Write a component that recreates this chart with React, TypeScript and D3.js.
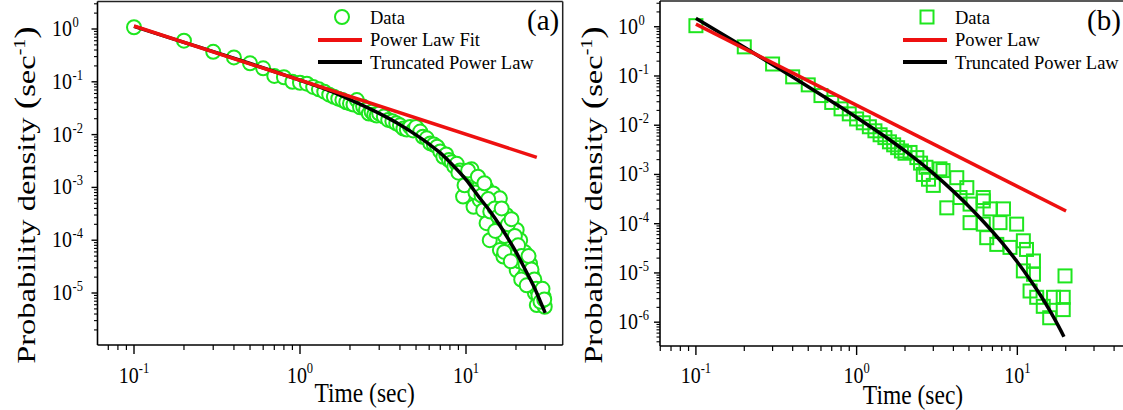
import React from 'react';
import * as d3 from 'd3';

// ---------------- Data: panel (a) ----------------
const timeA = [
  0.1, 0.2, 0.3, 0.4, 0.5, 0.6, 0.7, 0.8, 0.9, 1.0,
  1.1, 1.2, 1.3, 1.4, 1.5, 1.6, 1.7, 1.8, 1.9, 2.0,
  2.1, 2.2, 2.3, 2.4, 2.5, 2.6, 2.7, 2.8, 2.9, 3.0,
  3.2, 3.4, 3.6, 3.8, 4.0, 4.2, 4.4, 4.6, 4.8, 5.0,
  5.3, 5.5, 5.8, 6.1, 6.4, 6.7, 7.0, 7.3, 7.6, 7.9,
  8.2, 8.5, 8.8, 9.2, 9.6, 10.1, 10.5, 10.8, 11.1, 11.1,
  11.6, 12.1, 12.1, 12.7, 13.3, 13.3, 13.9, 14.2, 14.6, 15.3,
  16.0, 16.0, 16.0, 16.8, 17.5, 18.0, 18.4, 19.0, 19.3, 20.2,
  20.2, 21.0, 21.2, 22.1, 22.5, 23.0, 23.5, 24.3, 25.0, 25.4,
  26.0, 26.7, 27.9, 28.5, 29.3, 29.8,
  9.0, 9.8, 10.3, 11.4, 11.8, 12.4, 12.9, 13.6, 14.0, 14.9,
  15.6, 16.4, 17.1, 17.9, 18.8, 19.7, 20.6, 21.6, 22.8, 23.8,
  24.8, 25.8, 26.5, 27.3, 28.1, 28.9, 29.6, 15.0, 17.0, 18.6,
  21.5, 23.2,
];
const densityA = [
  1.08, 0.60, 0.37, 0.29, 0.224, 0.18, 0.129, 0.122, 0.10, 0.096,
  0.092, 0.080, 0.072, 0.065, 0.057, 0.052, 0.048, 0.045, 0.041, 0.039,
  0.037, 0.045, 0.033, 0.034, 0.030, 0.025, 0.027, 0.024, 0.023, 0.025,
  0.022, 0.019, 0.018, 0.0164, 0.015, 0.013, 0.0125, 0.014, 0.012, 0.014,
  0.0114, 0.0091, 0.0085, 0.0068, 0.0065, 0.0059, 0.0048, 0.0038, 0.0042, 0.0033,
  0.0030, 0.0025, 0.0028, 0.0021, 0.00067, 0.0017, 0.0012, 0.0022, 0.0014, 0.00043,
  0.0009, 0.0011, 0.00058, 0.00037, 0.00096, 0.00021, 0.0001, 0.00055, 0.00077, 0.0005,
  0.00062, 0.00018, 0.000065, 0.000049, 0.0003, 0.00012, 0.00021, 0.00009, 0.000065, 0.000156,
  0.000027, 0.00004, 0.0001, 0.00002, 0.00006, 0.000025, 0.000045, 0.000036, 0.000022, 0.000015,
  0.00001, 0.0000059, 0.0000114, 0.000007, 0.0000085, 0.0000055,
  0.0019, 0.0011, 0.0021, 0.0008, 0.0016, 0.0007, 0.0012, 0.0006, 0.00035, 0.0004,
  0.00028, 0.0004, 0.00012, 0.0002, 0.00025, 0.00012, 0.00008, 0.00005, 0.000035, 0.00005,
  0.000028, 0.000018, 0.000012, 0.000009, 0.0000068, 0.000012, 0.0000075, 0.00015, 0.00006, 0.00004,
  0.000018, 0.000014,
];
const powerLawTimeA = [0.1, 26.7];
const powerLawDensityA = [1.14, 0.0037];
const truncTimeA = [0.1, 0.2, 0.5, 1, 1.5, 2, 3, 4, 5, 6, 7, 8, 10, 12, 14, 16, 18, 20, 22, 24, 26, 28, 30];
const truncDensityA = [
  1.12, 0.56, 0.222, 0.107, 0.068, 0.046, 0.0252, 0.0154, 0.0099, 0.0066, 0.0045, 0.0030,
  0.0014, 0.00065, 0.00035, 0.00019, 0.000105, 0.00006, 0.000034, 0.00002, 0.000012, 0.000007, 0.0000042,
];

// ---------------- Data: panel (b) ----------------
const timeB = [
  0.1, 0.2, 0.3, 0.4, 0.5, 0.6, 0.7, 0.8, 0.9, 1.0,
  1.1, 1.2, 1.3, 1.4, 1.5, 1.6, 1.7, 1.8, 1.9, 2.0,
  2.15, 2.37, 2.5, 2.6, 2.7, 2.8, 3.0, 3.3, 3.45, 3.64,
  4.2, 4.4, 4.85, 5.08, 5.08, 6.14, 6.14, 6.14, 6.45, 6.76,
  7.45, 7.8, 8.2, 9.0, 9.9, 10.9, 10.9, 11.4, 12.0, 12.6,
  12.6, 13.2, 14.5, 15.9, 16.8, 19.3, 19.3, 19.8,
];
const densityB = [
  1.05, 0.39, 0.175, 0.096, 0.066, 0.040, 0.029, 0.0215, 0.017, 0.0134,
  0.0112, 0.0093, 0.0077, 0.0064, 0.0056, 0.0046, 0.0040, 0.0035, 0.0030, 0.0027,
  0.0028, 0.0022, 0.0017, 0.0010, 0.0014, 0.0008, 0.0006, 0.0013, 0.0012, 0.00021,
  0.00086, 0.00034, 0.00054, 0.00025, 0.000105, 0.00034, 0.00029, 0.000098, 0.000052, 0.0002,
  0.000038, 0.000105, 0.0002, 0.000033, 0.000098, 0.000045, 0.000011, 0.00003, 0.0000043, 0.0000175,
  0.0000094, 0.0000032, 0.0000021, 0.00000123, 0.0000032, 0.0000032, 0.0000018, 0.0000087,
];
const powerLawTimeB = [0.1, 20.1];
const powerLawDensityB = [1.13, 0.000181];
const truncTimeB = [0.1, 0.2, 0.4, 0.7, 1, 1.5, 2, 3, 4, 5, 6, 8, 10, 12, 14, 16, 18, 19.5];
const truncDensityB = [
  1.48, 0.383, 0.0957, 0.0304, 0.0144, 0.0059, 0.003, 0.00105, 0.000453, 0.000224, 0.00012,
  0.0000416, 0.0000167, 0.0000073, 0.00000345, 0.00000168, 0.00000084, 0.000000506,
];

// ---------------- Ticks & labels ----------------
const xTickValues = [0.1, 1, 10];
const xTickExponents = ['-1', '0', '1'];
const yTickValuesA = [1, 0.1, 0.01, 0.001, 0.0001, 0.00001];
const yTickExponentsA = ['0', '-1', '-2', '-3', '-4', '-5'];
const yTickValuesB = [1, 0.1, 0.01, 0.001, 0.0001, 0.00001, 0.000001];
const yTickExponentsB = ['0', '-1', '-2', '-3', '-4', '-5', '-6'];
const legendLabelsA = ['Data', 'Power Law Fit', 'Truncated Power Law'];
const legendLabelsB = ['Data', 'Power Law', 'Truncated Power Law'];
const panelTags = ['(a)', '(b)'];
const xTitle = 'Time (sec)';
const yTitleMain = 'Probability density ';
const yTitleUnit = 'sec';
const yTitleExp = '-1';

const GREEN = '#1ee61e';
const RED = '#ee1010';
const FONT = '"Liberation Serif", "Times New Roman", serif';
const STRETCH = 1.13;

type PanelCfg = {
  left: number; right: number; top: number; bottom: number;
  xDomain: [number, number]; yDomain: [number, number];
  time: number[]; density: number[];
  plT: number[]; plV: number[]; tpT: number[]; tpV: number[];
  yTicks: number[]; yExps: string[];
  legend: string[]; tag: string; marker: 'circle' | 'square';
  legendX: number; tagX: number; yLabelGap: number;
  yTitleX: number; yTitleY: number; xTitleX: number; xTitleY: number;
};

const panels: PanelCfg[] = [
  {
    left: 97.5, right: 562.7, top: 1.5, bottom: 345,
    xDomain: [0.06027, 38.24], yDomain: [1.036e-6, 3.318],
    time: timeA, density: densityA,
    plT: powerLawTimeA, plV: powerLawDensityA, tpT: truncTimeA, tpV: truncDensityA,
    yTicks: yTickValuesA, yExps: yTickExponentsA,
    legend: legendLabelsA, tag: panelTags[0], marker: 'circle',
    legendX: 318, tagX: 527, yLabelGap: 25.5,
    yTitleX: 35, yTitleY: 195, xTitleX: 364.6, xTitleY: 402,
  },
  {
    left: 660, right: 1124, top: 1, bottom: 346,
    xDomain: [0.05978, 46.1], yDomain: [3.283e-7, 3.332],
    time: timeB, density: densityB,
    plT: powerLawTimeB, plV: powerLawDensityB, tpT: truncTimeB, tpV: truncDensityB,
    yTicks: yTickValuesB, yExps: yTickExponentsB,
    legend: legendLabelsB, tag: panelTags[1], marker: 'square',
    legendX: 903, tagX: 1087, yLabelGap: 22,
    yTitleX: 602, yTitleY: 195, xTitleX: 913, xTitleY: 404,
  },
];

function Panel({ p }: { p: PanelCfg }) {
  const x = d3.scaleLog().domain(p.xDomain).range([p.left, p.right]);
  const y = d3.scaleLog().domain(p.yDomain).range([p.bottom, p.top]);
  const line = d3.line<[number, number]>()
    .x((d) => x(d[0]))
    .y((d) => y(d[1]))
    .curve(d3.curveMonotoneX);
  const plPts = p.plT.map((t, i) => [t, p.plV[i]] as [number, number]);
  const tpPts = p.tpT.map((t, i) => [t, p.tpV[i]] as [number, number]);

  const isMajor = (v: number) => Math.abs(Math.log10(v) - Math.round(Math.log10(v))) < 1e-6;
  const xMinor = x.ticks().filter((v) => !isMajor(v) && x(v) >= p.left - 0.1 && x(v) <= p.right);
  const yAll = y.ticks();
  const yMinor = yAll.filter((v) => !isMajor(v));

  const lx0 = p.legendX, lx1 = p.legendX + 44, ltx = p.legendX + 52;

  return (
    <g>
      {/* data markers */}
      {p.time.map((t, i) =>
        p.marker === 'circle' ? (
          <circle key={i} cx={x(t)} cy={y(p.density[i])} r={7} fill="white" stroke={GREEN} strokeWidth={2} />
        ) : (
          <rect key={i} x={x(t) - 6.5} y={y(p.density[i]) - 6.5} width={13} height={13} fill="none" stroke={GREEN} strokeWidth={2} />
        )
      )}
      {/* fits */}
      <path d={line(tpPts) || ''} fill="none" stroke="#000" strokeWidth={3.5} />
      <path d={line(plPts) || ''} fill="none" stroke={RED} strokeWidth={3.5} />

      {/* frame */}
      <line x1={p.left} x2={p.right} y1={p.top} y2={p.top} stroke="#222" strokeWidth={1.5} />
      <line x1={p.right} x2={p.right} y1={p.top} y2={p.bottom} stroke="#222" strokeWidth={1.5} />
      <line x1={p.left} x2={p.left} y1={p.top} y2={p.bottom} stroke="#000" strokeWidth={1.6} />
      <line x1={p.left} x2={p.right} y1={p.bottom} y2={p.bottom} stroke="#000" strokeWidth={1.6} />

      {/* x ticks */}
      {xTickValues.map((v) => (
        <line key={'xM' + v} x1={x(v)} x2={x(v)} y1={p.bottom} y2={p.bottom + 9} stroke="#000" strokeWidth={1.4} />
      ))}
      {xMinor.map((v) => (
        <line key={'xm' + v} x1={x(v)} x2={x(v)} y1={p.bottom} y2={p.bottom + 5} stroke="#000" strokeWidth={1.2} />
      ))}
      {xTickValues.map((v, i) => (
        <g key={'xl' + v} transform={`translate(${x(v)},383) scale(1,${STRETCH})`}>
          <text textAnchor="middle" fontFamily={FONT} fontSize={20} fill="#000">
            10<tspan dy={-8.5} fontSize={12.5}>{xTickExponents[i]}</tspan>
          </text>
        </g>
      ))}

      {/* y ticks */}
      {p.yTicks.map((v) => (
        <line key={'yM' + v} x1={p.left - 6} x2={p.left} y1={y(v)} y2={y(v)} stroke="#000" strokeWidth={1.4} />
      ))}
      {yMinor.map((v) => (
        <line key={'ym' + v} x1={p.left - 3.5} x2={p.left} y1={y(v)} y2={y(v)} stroke="#000" strokeWidth={1.1} />
      ))}
      {p.yTicks.map((v, i) => (
        <g key={'yl' + v} transform={`translate(${p.left - p.yLabelGap},${y(v) + 7}) scale(1,${STRETCH})`}>
          <text textAnchor="end" fontFamily={FONT} fontSize={20} fill="#000">10</text>
          <text x={0.5} y={-8} textAnchor="start" fontFamily={FONT} fontSize={12.5} fill="#000">{p.yExps[i]}</text>
        </g>
      ))}

      {/* axis titles */}
      <g transform={`translate(${p.xTitleX},${p.xTitleY}) scale(1,1.15)`}>
        <text textAnchor="middle" fontFamily={FONT} fontSize={23.5} fill="#000">{xTitle}</text>
      </g>
      <g transform={`translate(${p.yTitleX},${p.yTitleY}) rotate(-90) scale(1.25,1)`}>
        <text textAnchor="middle" fontFamily={FONT} fontSize={26} fill="#000">
          {yTitleMain}
          <tspan fontSize={30}>(</tspan>
          <tspan>{yTitleUnit}</tspan>
          <tspan fontSize={16} dy={-10}>{yTitleExp}</tspan>
          <tspan fontSize={30} dy={10}>)</tspan>
        </text>
      </g>

      {/* legend */}
      {p.marker === 'circle' ? (
        <circle cx={(lx0 + lx1) / 2 + 2} cy={17} r={7} fill="white" stroke={GREEN} strokeWidth={2} />
      ) : (
        <rect x={(lx0 + lx1) / 2 + 2 - 6.5} y={17 - 6.5} width={13} height={13} fill="none" stroke={GREEN} strokeWidth={2} />
      )}
      <line x1={lx0} x2={lx1} y1={40} y2={40} stroke={RED} strokeWidth={4} />
      <line x1={lx0} x2={lx1} y1={62} y2={62} stroke="#000" strokeWidth={4} />
      {p.legend.map((s, i) => (
        <text key={s} x={ltx} y={24 + i * 22.3} fontFamily={FONT} fontSize={18.5} fill="#000">{s}</text>
      ))}
      <text x={p.tagX} y={30} fontFamily={FONT} fontSize={29} fill="#000">{p.tag}</text>
    </g>
  );
}

export default function App() {
  return (
    <svg
      width={1123}
      height={410}
      viewBox="0 0 1123 410"
      style={{ position: 'absolute', left: 0, top: 0, display: 'block', background: 'white' }}
    >
      <rect x={0} y={0} width={1123} height={410} fill="white" />
      {panels.map((p, i) => (
        <Panel key={i} p={p} />
      ))}
    </svg>
  );
}
